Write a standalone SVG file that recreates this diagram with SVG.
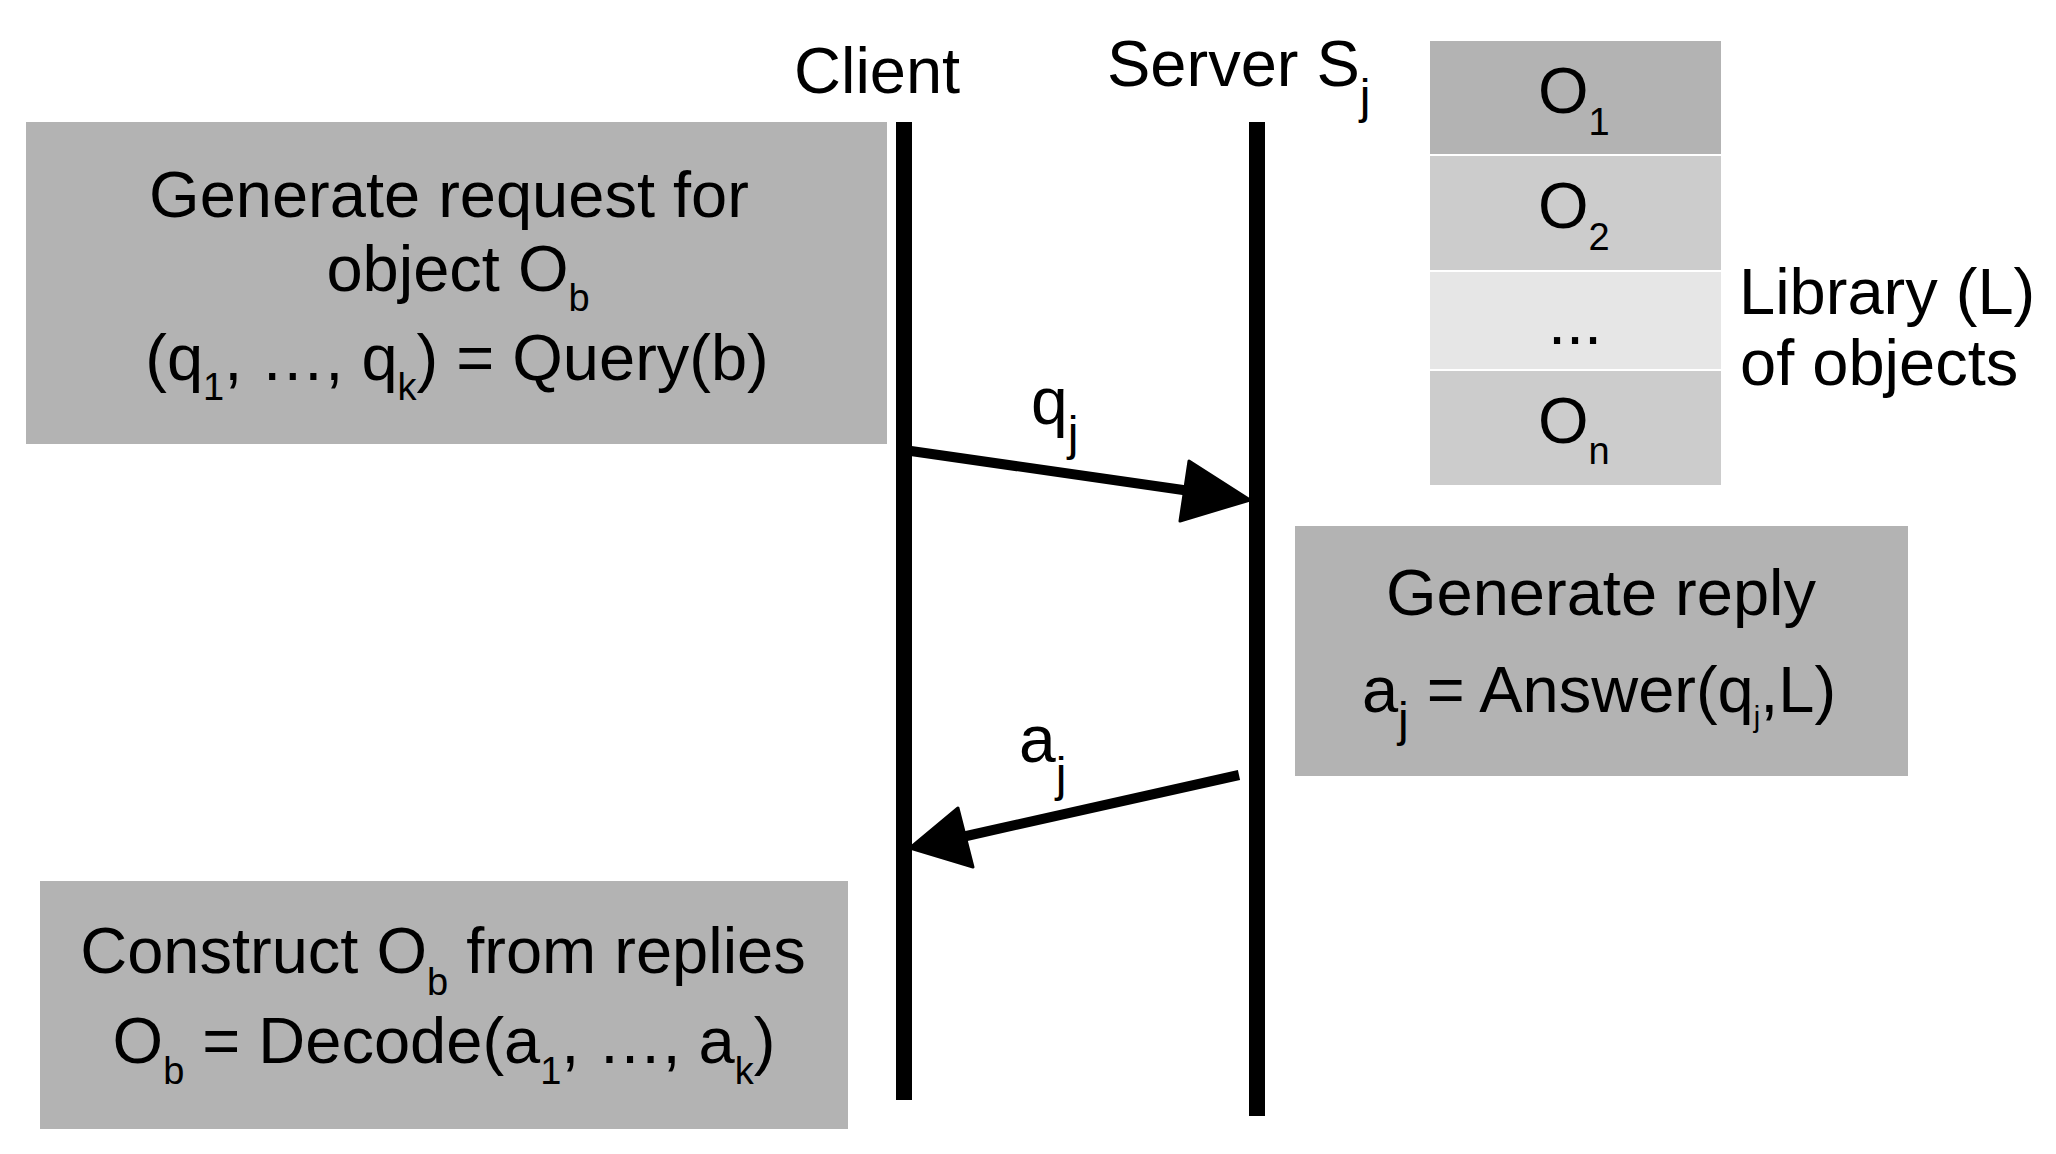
<svg xmlns="http://www.w3.org/2000/svg" width="2056" height="1154" viewBox="0 0 2056 1154">
<style>
  text { font-family: "Liberation Sans", Arial, sans-serif; fill: #000; }
  .t { font-size: 65px; }
  .mid { text-anchor: middle; }
  .sub { font-size: 38px; }
  .subj { font-size: 48px; }
  .lbl { font-size: 66px; }
  .box { fill: #b3b3b3; }
  .life { fill: #000; }
  .conn { stroke: #000; stroke-width: 10; fill: none; }
  .head { fill: #000; stroke: #000; stroke-width: 3; stroke-linejoin: round; }
</style>
<rect x="0" y="0" width="2056" height="1154" fill="#ffffff"/>

<g id="client">
  <text class="t" x="794" y="93">Client</text>
  <rect class="life" x="896" y="122" width="16" height="978"/>
</g>

<g id="server">
  <text class="t" x="1107" y="86">Server S<tspan class="subj" dy="27">j</tspan></text>
  <rect class="life" x="1249" y="122" width="16" height="994"/>
</g>

<g id="request-box">
  <rect class="box" x="26" y="122" width="861" height="322"/>
  <text class="t mid" x="449" y="217">Generate request for</text>
  <text class="t mid" x="458" y="291">object O<tspan class="sub" dy="20">b</tspan></text>
  <text class="t mid" x="457" y="380">(q<tspan class="sub" dy="20">1</tspan><tspan dy="-20">, …, q</tspan><tspan class="sub" dy="20">k</tspan><tspan dy="-20">) = Query(b)</tspan></text>
</g>

<g id="library">
  <rect x="1430" y="41" width="291" height="113" fill="#b3b3b3"/>
  <rect x="1430" y="156" width="291" height="114" fill="#cccccc"/>
  <rect x="1430" y="272" width="291" height="97" fill="#e6e6e6"/>
  <rect x="1430" y="371" width="291" height="114" fill="#cccccc"/>
  <text class="t" x="1538" y="113">O<tspan class="sub" dy="22">1</tspan></text>
  <text class="t" x="1538" y="228">O<tspan class="sub" dy="22">2</tspan></text>
  <text class="t mid" x="1575" y="344">...</text>
  <text class="t" x="1538" y="443">O<tspan class="sub" dy="21">n</tspan></text>
  <text class="t" x="1739" y="314">Library (L)</text>
  <text class="t" x="1740" y="385">of objects</text>
</g>

<g id="reply-box">
  <rect class="box" x="1295" y="526" width="613" height="250"/>
  <text class="t mid" x="1601" y="615">Generate reply</text>
  <text class="t mid" x="1599" y="712">a<tspan class="subj" dy="24">j</tspan><tspan dy="-24"> = Answer(q</tspan><tspan style="font-size:29px" dy="15">j</tspan><tspan dy="-15">,L)</tspan></text>
</g>

<g id="construct-box">
  <rect class="box" x="40" y="881" width="808" height="248"/>
  <text class="t mid" x="443" y="973">Construct O<tspan class="sub" dy="22">b</tspan><tspan dy="-22"> from replies</tspan></text>
  <text class="t mid" x="444" y="1063">O<tspan class="sub" dy="21">b</tspan><tspan dy="-21"> = Decode(a</tspan><tspan class="sub" dy="21">1</tspan><tspan dy="-21">, …, a</tspan><tspan class="sub" dy="21">k</tspan><tspan dy="-21">)</tspan></text>
</g>

<g id="connectors">
  <line class="conn" x1="904" y1="450" x2="1190" y2="491"/>
  <polygon class="head" points="1250,500 1189,461 1180,521"/>
  <text class="lbl" x="1031" y="424">q<tspan class="subj" dy="26">j</tspan></text>

  <line class="conn" x1="1239" y1="775" x2="962" y2="837"/>
  <polygon class="head" points="910,848 958,808 973,867"/>
  <text class="lbl" x="1019" y="762">a<tspan class="subj" dy="29">j</tspan></text>
</g>
</svg>
